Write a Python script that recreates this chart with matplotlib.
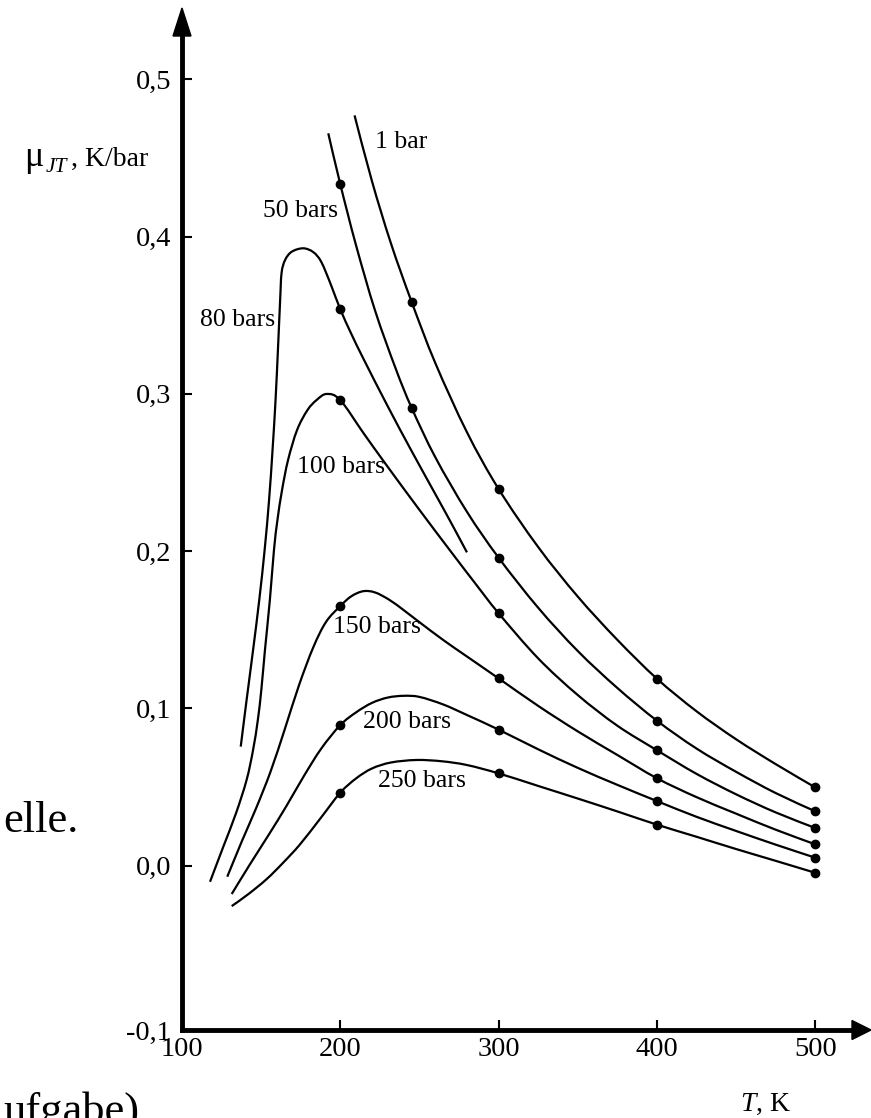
import numpy as np
import matplotlib
matplotlib.use("Agg")
import matplotlib.pyplot as plt
from matplotlib.path import Path
from matplotlib.patches import PathPatch, Polygon

# ---------------- data ----------------
labels = ["1 bar", "50 bars", "80 bars", "100 bars", "150 bars", "200 bars", "250 bars"]

T_1 = [209, 220, 232, 245, 260, 280, 300, 325, 350, 375, 400, 425, 450, 475, 500]
mu_1 = [0.477, 0.4352, 0.3956, 0.3586, 0.3196, 0.2756, 0.2395, 0.2026, 0.1711, 0.1436, 0.1189,
        0.0982, 0.0804, 0.0646, 0.0498]

T_50 = [192.4, 200, 210, 222, 235, 245, 260, 280, 300, 325, 350, 375, 400, 425, 450, 475, 500]
mu_50 = [0.4656, 0.4332, 0.3942, 0.3528, 0.3160, 0.2912, 0.2597, 0.2250, 0.1958, 0.1640, 0.1365,
         0.1130, 0.0922, 0.0745, 0.0597, 0.0462, 0.0346]

T_80 = [137.1, 140.8, 144.9, 148.8, 152.2, 155.0, 157.2, 159.1, 160.6, 162.0, 162.9, 165.1, 169.3,
        176.6, 183, 188, 194, 200, 207, 215, 230, 245, 260, 270, 280]
mu_80 = [0.0757, 0.1053, 0.1371, 0.1689, 0.2007, 0.2325, 0.2643, 0.2961, 0.3279, 0.3597, 0.3768,
         0.3850, 0.3903, 0.3925, 0.3900, 0.3838, 0.3695, 0.3537, 0.3380, 0.3215, 0.2920, 0.2637,
         0.2363, 0.2180, 0.1992]

T_100 = [117.7, 126.1, 134.1, 140.8, 144.9, 147.9, 150.1, 152.4, 155.5, 158.1, 160.3, 163.2, 167.0,
         172.7, 179.3, 185.1, 191.4, 200, 215, 230, 250, 270, 285, 300, 325, 350, 375, 400, 425,
         450, 475, 500]
mu_100 = [-0.0102, 0.0121, 0.0333, 0.0545, 0.0736, 0.0926, 0.1117, 0.1371, 0.1689, 0.2007, 0.2198,
          0.2388, 0.2579, 0.2770, 0.2897, 0.2961, 0.2999, 0.296, 0.2745, 0.2535, 0.2262, 0.1995,
          0.1798, 0.1605, 0.1318, 0.1085, 0.0890, 0.0734, 0.0584, 0.0454, 0.0339, 0.0240]

T_150 = [128.6, 138, 147, 156, 165, 174, 183, 191, 200, 207, 214.5, 222, 231, 240, 250, 265, 280,
         300, 325, 350, 375, 400, 425, 450, 475, 500]
mu_150 = [-0.007, 0.016, 0.037, 0.060, 0.087, 0.115, 0.139, 0.155, 0.1651, 0.1713, 0.1745, 0.1737,
          0.1690, 0.1625, 0.1548, 0.1435, 0.133, 0.1191, 0.1016, 0.0854, 0.0704, 0.0556, 0.0436,
          0.0331, 0.0229, 0.0136]

T_200 = [131.4, 143, 155, 166, 177, 188, 200, 210, 220, 230, 240, 250, 265, 280, 300, 325, 350,
         375, 400, 425, 450, 475, 500]
mu_200 = [-0.018, 0.001, 0.020, 0.038, 0.057, 0.0745, 0.0894, 0.0975, 0.1035, 0.1069, 0.1080,
          0.1073, 0.1025, 0.0958, 0.0865, 0.074, 0.0622, 0.0514, 0.0411, 0.0311, 0.0221, 0.0134,
          0.0051]

T_250 = [131.4, 142, 153.5, 164, 174.5, 187, 200, 210, 220, 232, 248, 264, 280, 300, 325, 350, 375,
         400, 425, 450, 475, 500]
mu_250 = [-0.0257, -0.018, -0.0085, 0.002, 0.0135, 0.0295, 0.0464, 0.0555, 0.0618, 0.0656, 0.0672,
          0.0664, 0.064, 0.0587, 0.0507, 0.0427, 0.0345, 0.0261, 0.0184, 0.0106, 0.0031, -0.0045]

# measured points (dots)
dotT_1 = [245, 300, 400, 500]
dotmu_1 = [0.3586, 0.2395, 0.1189, 0.0498]
dotT_50 = [200, 245, 300, 400, 500]
dotmu_50 = [0.4332, 0.2912, 0.1958, 0.0922, 0.0346]
dotT_80 = [200]
dotmu_80 = [0.3537]
dotT_100 = [200, 300, 400, 500]
dotmu_100 = [0.296, 0.1605, 0.0734, 0.0240]
dotT_150 = [200, 300, 400, 500]
dotmu_150 = [0.1651, 0.1191, 0.0556, 0.0136]
dotT_200 = [200, 300, 400, 500]
dotmu_200 = [0.0894, 0.0865, 0.0411, 0.0051]
dotT_250 = [200, 300, 400, 500]
dotmu_250 = [0.0464, 0.0587, 0.0261, -0.0045]

# label anchor positions (left, baseline) in data units
labT = [222, 151.3, 111.3, 172.4, 195.6, 214.5, 224]
labmu = [0.4563, 0.4126, 0.3432, 0.2498, 0.1477, 0.0873, 0.0502]

yticks = [0.0, 0.1, 0.2, 0.3, 0.4, 0.5]
yticklabels = ["0,0", "0,1", "0,2", "0,3", "0,4", "0,5"]
xticks = [100, 200, 300, 400, 500]
xticklabels = ["100", "200", "300", "400", "500"]

# ---------------- figure ----------------
plt.rcParams["font.family"] = ["Liberation Serif", "DejaVu Serif"]
plt.rcParams["mathtext.fontset"] = "custom"
plt.rcParams["mathtext.rm"] = "Liberation Serif"
plt.rcParams["mathtext.it"] = "Liberation Serif:italic"

W, H = 871, 1118
fig = plt.figure(figsize=(W / 100, H / 100), dpi=100)
ax_left, ax_right, ax_top, ax_bot = 182, 871, 8, 1030
ax = fig.add_axes([ax_left / W, (H - ax_bot) / H, (ax_right - ax_left) / W, (ax_bot - ax_top) / H])

px_per_K = 1.583
px_per_mu = 1573.0
y0_px = 865.7
XMIN = 100
XMAX = 100 + (ax_right - ax_left) / px_per_K
YMIN = -(ax_bot - y0_px) / px_per_mu
YMAX = (y0_px - ax_top) / px_per_mu
ax.set_xlim(XMIN, XMAX)
ax.set_ylim(YMIN, YMAX)


def smooth_path(xs, ys):
    """Catmull-Rom curve through the read points, drawn as cubic Bezier segments."""
    pts = np.column_stack([xs, ys]).astype(float)
    n = len(pts)
    verts = [pts[0]]
    codes = [Path.MOVETO]
    for i in range(n - 1):
        p0 = pts[i - 1] if i > 0 else pts[i]
        p1 = pts[i]
        p2 = pts[i + 1]
        p3 = pts[i + 2] if i + 2 < n else pts[i + 1]
        c1 = p1 + (p2 - p0) / 6.0
        c2 = p2 - (p3 - p1) / 6.0
        verts += [c1, c2, p2]
        codes += [Path.CURVE4] * 3
    return Path(verts, codes)


curves = [(T_1, mu_1), (T_50, mu_50), (T_80, mu_80), (T_100, mu_100),
          (T_150, mu_150), (T_200, mu_200), (T_250, mu_250)]
dots = [(dotT_1, dotmu_1), (dotT_50, dotmu_50), (dotT_80, dotmu_80), (dotT_100, dotmu_100),
        (dotT_150, dotmu_150), (dotT_200, dotmu_200), (dotT_250, dotmu_250)]

for (T, mu), (dT, dmu), lab, lx, ly in zip(curves, dots, labels, labT, labmu):
    ax.add_patch(PathPatch(smooth_path(T, mu), facecolor="none", edgecolor="black",
                           lw=1.6, capstyle="butt"))
    ax.plot(dT, dmu, "o", color="black", ms=6, zorder=3)
    ax.text(lx, ly, lab, fontsize=18.5, ha="left", va="baseline")

# axes styling
for s in ["top", "right"]:
    ax.spines[s].set_visible(False)
for s in ["left", "bottom"]:
    ax.spines[s].set_linewidth(3.5)
ax.spines["left"].set_bounds(YMIN, YMAX - 20 / px_per_mu)
ax.spines["bottom"].set_bounds(XMIN, XMAX - 12 / px_per_K)

ax.set_yticks([YMIN] + yticks)
ax.set_yticklabels(["-0,1"] + yticklabels)
ax.set_xticks(xticks)
ax.set_xticklabels(xticklabels)
ax.tick_params(axis="both", direction="in", length=7, width=1.5, labelsize=20.5)
ax.tick_params(axis="y", pad=8)
ax.tick_params(axis="x", pad=5)

# arrow heads
ah_len_y, ah_w_y = 28 / px_per_mu, 9 / px_per_K
ax.add_patch(Polygon([[XMIN - ah_w_y, YMAX - ah_len_y], [XMIN + ah_w_y, YMAX - ah_len_y], [XMIN, YMAX]],
                     closed=True, color="black", clip_on=False, zorder=5))
ah_len_x, ah_w_x = 19 / px_per_K, 9.5 / px_per_mu
ax.add_patch(Polygon([[XMAX - ah_len_x, YMIN - ah_w_x], [XMAX - ah_len_x, YMIN + ah_w_x], [XMAX, YMIN]],
                     closed=True, color="black", clip_on=False, zorder=5))

# axis titles
fig.text(24 / W, 1 - 166 / H, "μ", fontsize=26, ha="left", va="baseline")
fig.text(46 / W, 1 - 172 / H, "JT", fontsize=15.5, style="italic", ha="left", va="baseline")
fig.text(71 / W, 1 - 166 / H, ", K/bar", fontsize=20, ha="left", va="baseline")
fig.text(740 / W, 1 - 1111 / H, r"$T$, K", fontsize=20, ha="left", va="baseline")

# surrounding page text fragments
fig.text(3 / W, 1 - 832 / H, "elle.", fontsize=32, ha="left", va="baseline")
fig.text(3 / W, 1 - 1123 / H, "ufgabe)", fontsize=32, ha="left", va="baseline")

fig.savefig("out.png", dpi=100, facecolor="white")
